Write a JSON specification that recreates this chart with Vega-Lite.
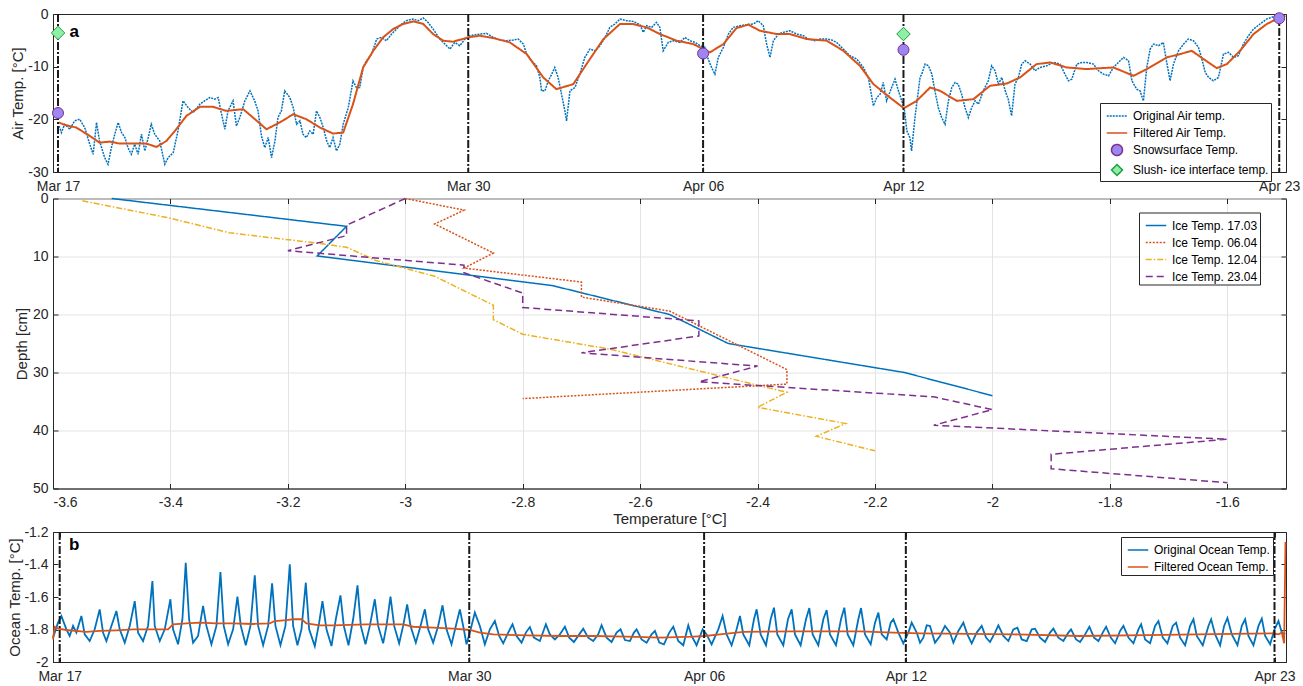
{
  "$schema": "https://vega.github.io/schema/vega-lite/v6.json",
  "padding": {"left": 7, "top": 6, "right": 5, "bottom": 2},
  "background": "white",
  "spacing": -3.5,
  "config": {
    "font": "Liberation Sans",
    "view": {"stroke": "#262626", "strokeWidth": 1},
    "locale": {"number": {"decimal": ".", "thousands": ",", "grouping": [3], "currency": ["$", ""], "minus": "-"}},
    "axis": {
      "labelFont": "Liberation Sans", "labelFontSize": 14, "labelColor": "#262626", "labelOverlap": false,
      "titleFont": "Liberation Sans", "titleFontSize": 15, "titleFontWeight": "normal", "titleColor": "#262626",
      "domainColor": "#262626", "tickColor": "#262626", "tickSize": -5, "grid": false
    },
    "axisX": {"labelPadding": 12},
    "axisY": {"labelPadding": 10},
    "legend": {
      "labelFont": "Liberation Sans", "labelFontSize": 12, "labelColor": "#000000",
      "strokeColor": "#262626", "fillColor": "#ffffff", "padding": 2, "rowPadding": -1,
      "labelOffset": 5, "symbolOffset": 4, "symbolStrokeWidth": 1.5, "cornerRadius": 0
    }
  },
  "resolve": {
    "scale": {"x": "independent", "y": "independent", "stroke": "independent", "strokeDash": "independent", "fill": "independent", "shape": "independent", "size": "independent"},
    "legend": {"stroke": "independent", "strokeDash": "independent", "fill": "independent", "shape": "independent", "size": "independent"}
  },
  "datasets": {
    "vTop": [{"t": 0.86}, {"t": 13.0}, {"t": 19.95}, {"t": 25.88}, {"t": 37.0}],
    "vBot": [{"t": 0.91}, {"t": 13.03}, {"t": 19.98}, {"t": 25.95}, {"t": 36.86}],
    "labA": [{"t": 1.34, "v": -3.5, "s": "a"}],
    "labB": [{"t": 1.34, "v": -1.279, "s": "b"}],
    "snow": [{"t": 0.86, "v": -18.8}, {"t": 19.95, "v": -7.5}, {"t": 25.88, "v": -6.8}, {"t": 37.0, "v": -0.8}],
    "slush": [{"t": 0.86, "v": -3.6}, {"t": 25.88, "v": -3.8}],
    "airO": [
      {"t":0.89,"v":-21.25},{"t":0.96,"v":-22.51},{"t":1.06,"v":-20.93},{"t":1.21,"v":-21.88},{"t":1.35,"v":-20.29},{"t":1.50,"v":-19.98},{"t":1.65,"v":-21.56},{"t":1.80,"v":-24.73},{"t":1.90,"v":-26.64},{"t":2.00,"v":-20.61},
      {"t":2.09,"v":-24.10},{"t":2.24,"v":-27.27},{"t":2.34,"v":-28.54},{"t":2.44,"v":-25.37},{"t":2.54,"v":-22.83},{"t":2.64,"v":-20.61},{"t":2.74,"v":-22.51},{"t":2.84,"v":-23.47},{"t":2.93,"v":-25.37},{"t":3.03,"v":-26.64},
      {"t":3.13,"v":-24.73},{"t":3.23,"v":-26.64},{"t":3.33,"v":-22.83},{"t":3.43,"v":-26.00},{"t":3.53,"v":-23.47},{"t":3.62,"v":-20.93},{"t":3.72,"v":-22.83},{"t":3.87,"v":-24.10},{"t":4.02,"v":-28.54},{"t":4.12,"v":-27.27},
      {"t":4.27,"v":-26.32},{"t":4.41,"v":-22.20},{"t":4.56,"v":-16.49},{"t":4.71,"v":-17.76},{"t":4.86,"v":-18.71},{"t":5.06,"v":-17.12},{"t":5.20,"v":-16.49},{"t":5.35,"v":-15.86},{"t":5.50,"v":-16.17},{"t":5.60,"v":-15.86},
      {"t":5.70,"v":-19.03},{"t":5.80,"v":-21.88},{"t":5.89,"v":-18.39},{"t":6.04,"v":-16.49},{"t":6.14,"v":-21.25},{"t":6.24,"v":-19.66},{"t":6.39,"v":-16.49},{"t":6.54,"v":-14.59},{"t":6.68,"v":-16.49},{"t":6.78,"v":-18.39},
      {"t":6.88,"v":-23.15},{"t":6.98,"v":-25.37},{"t":7.08,"v":-23.47},{"t":7.18,"v":-27.27},{"t":7.28,"v":-24.10},{"t":7.37,"v":-19.66},{"t":7.47,"v":-18.39},{"t":7.57,"v":-14.59},{"t":7.72,"v":-15.86},{"t":7.82,"v":-17.76},
      {"t":7.92,"v":-20.93},{"t":8.02,"v":-20.29},{"t":8.11,"v":-22.83},{"t":8.21,"v":-23.47},{"t":8.31,"v":-22.20},{"t":8.41,"v":-22.83},{"t":8.51,"v":-18.39},{"t":8.61,"v":-19.66},{"t":8.71,"v":-21.56},{"t":8.81,"v":-24.10},
      {"t":8.90,"v":-25.37},{"t":9.00,"v":-23.47},{"t":9.10,"v":-26.00},{"t":9.20,"v":-24.73},{"t":9.30,"v":-20.93},{"t":9.45,"v":-17.76},{"t":9.59,"v":-12.68},{"t":9.69,"v":-13.95},{"t":9.79,"v":-13.95},{"t":9.89,"v":-10.15},
      {"t":9.99,"v":-8.88},{"t":10.14,"v":-7.61},{"t":10.29,"v":-4.76},{"t":10.43,"v":-4.44},{"t":10.58,"v":-5.07},{"t":10.73,"v":-3.81},{"t":10.88,"v":-2.85},{"t":11.03,"v":-1.90},{"t":11.17,"v":-1.27},{"t":11.37,"v":-0.95},
      {"t":11.52,"v":-1.27},{"t":11.67,"v":-0.76},{"t":11.81,"v":-1.59},{"t":11.96,"v":-2.85},{"t":12.16,"v":-4.76},{"t":12.31,"v":-5.71},{"t":12.46,"v":-6.66},{"t":12.60,"v":-5.39},{"t":12.75,"v":-6.02},{"t":12.90,"v":-4.76},
      {"t":13.05,"v":-4.12},{"t":13.34,"v":-3.81},{"t":13.54,"v":-3.68},{"t":13.74,"v":-4.44},{"t":13.94,"v":-4.95},{"t":14.13,"v":-5.07},{"t":14.33,"v":-4.95},{"t":14.48,"v":-4.76},{"t":14.63,"v":-5.71},{"t":14.73,"v":-7.61},
      {"t":14.87,"v":-8.88},{"t":15.02,"v":-9.83},{"t":15.12,"v":-12.05},{"t":15.17,"v":-14.59},{"t":15.27,"v":-14.59},{"t":15.37,"v":-12.68},{"t":15.47,"v":-11.42},{"t":15.56,"v":-10.15},{"t":15.66,"v":-12.05},{"t":15.76,"v":-15.22},
      {"t":15.86,"v":-18.39},{"t":15.91,"v":-20.29},{"t":16.01,"v":-14.59},{"t":16.16,"v":-13.95},{"t":16.30,"v":-11.42},{"t":16.45,"v":-8.24},{"t":16.60,"v":-6.66},{"t":16.75,"v":-6.98},{"t":16.90,"v":-6.02},{"t":17.05,"v":-4.44},
      {"t":17.19,"v":-2.54},{"t":17.34,"v":-1.90},{"t":17.49,"v":-0.95},{"t":17.69,"v":-1.27},{"t":17.88,"v":-1.40},{"t":18.08,"v":-2.03},{"t":18.18,"v":-3.49},{"t":18.28,"v":-2.22},{"t":18.43,"v":-2.54},{"t":18.57,"v":-1.59},
      {"t":18.67,"v":-2.54},{"t":18.77,"v":-6.98},{"t":18.92,"v":-5.39},{"t":19.07,"v":-5.07},{"t":19.27,"v":-5.39},{"t":19.41,"v":-4.44},{"t":19.56,"v":-5.07},{"t":19.71,"v":-5.39},{"t":19.86,"v":-6.02},{"t":20.01,"v":-6.34},
      {"t":20.10,"v":-8.56},{"t":20.20,"v":-10.15},{"t":20.30,"v":-11.42},{"t":20.40,"v":-8.24},{"t":20.55,"v":-6.34},{"t":20.70,"v":-3.81},{"t":20.84,"v":-2.54},{"t":21.04,"v":-2.22},{"t":21.24,"v":-2.03},{"t":21.44,"v":-1.90},
      {"t":21.58,"v":-1.27},{"t":21.73,"v":-2.22},{"t":21.83,"v":-5.71},{"t":21.93,"v":-8.24},{"t":22.03,"v":-5.07},{"t":22.18,"v":-3.81},{"t":22.32,"v":-3.49},{"t":22.52,"v":-3.17},{"t":22.72,"v":-3.81},{"t":22.92,"v":-4.12},
      {"t":23.06,"v":-4.76},{"t":23.26,"v":-5.07},{"t":23.41,"v":-4.76},{"t":23.61,"v":-4.76},{"t":23.76,"v":-4.95},{"t":23.90,"v":-5.39},{"t":24.10,"v":-6.66},{"t":24.30,"v":-7.93},{"t":24.50,"v":-8.56},{"t":24.69,"v":-10.15},
      {"t":24.84,"v":-12.05},{"t":24.99,"v":-17.44},{"t":25.09,"v":-15.86},{"t":25.19,"v":-15.22},{"t":25.28,"v":-13.00},{"t":25.38,"v":-16.49},{"t":25.53,"v":-13.95},{"t":25.63,"v":-12.37},{"t":25.73,"v":-14.59},{"t":25.83,"v":-16.49},
      {"t":25.90,"v":-17.76},{"t":25.98,"v":-22.20},{"t":26.07,"v":-23.47},{"t":26.12,"v":-26.00},{"t":26.22,"v":-19.66},{"t":26.37,"v":-12.05},{"t":26.42,"v":-11.42},{"t":26.52,"v":-9.51},{"t":26.62,"v":-9.83},{"t":26.72,"v":-11.42},
      {"t":26.81,"v":-14.59},{"t":26.91,"v":-17.76},{"t":27.01,"v":-19.66},{"t":27.11,"v":-20.93},{"t":27.21,"v":-16.49},{"t":27.31,"v":-13.95},{"t":27.41,"v":-13.00},{"t":27.50,"v":-13.32},{"t":27.60,"v":-15.22},{"t":27.70,"v":-17.76},
      {"t":27.80,"v":-19.66},{"t":27.90,"v":-17.76},{"t":28.00,"v":-16.49},{"t":28.10,"v":-17.12},{"t":28.24,"v":-14.59},{"t":28.39,"v":-12.68},{"t":28.49,"v":-9.83},{"t":28.59,"v":-10.78},{"t":28.69,"v":-13.32},{"t":28.79,"v":-12.05},
      {"t":28.89,"v":-14.59},{"t":28.98,"v":-16.17},{"t":29.08,"v":-19.34},{"t":29.18,"v":-13.32},{"t":29.28,"v":-12.05},{"t":29.38,"v":-9.51},{"t":29.48,"v":-8.88},{"t":29.63,"v":-9.51},{"t":29.77,"v":-10.78},{"t":29.92,"v":-10.15},
      {"t":30.12,"v":-9.83},{"t":30.32,"v":-9.20},{"t":30.51,"v":-9.51},{"t":30.66,"v":-11.42},{"t":30.76,"v":-12.68},{"t":30.86,"v":-12.37},{"t":31.01,"v":-9.51},{"t":31.16,"v":-9.20},{"t":31.30,"v":-9.20},{"t":31.50,"v":-9.51},
      {"t":31.65,"v":-10.78},{"t":31.80,"v":-11.42},{"t":31.95,"v":-11.73},{"t":32.09,"v":-10.15},{"t":32.24,"v":-9.20},{"t":32.39,"v":-8.24},{"t":32.54,"v":-8.88},{"t":32.64,"v":-12.68},{"t":32.78,"v":-14.27},{"t":32.88,"v":-14.59},
      {"t":32.98,"v":-16.49},{"t":33.08,"v":-10.15},{"t":33.18,"v":-6.66},{"t":33.28,"v":-5.71},{"t":33.43,"v":-6.02},{"t":33.57,"v":-5.39},{"t":33.67,"v":-9.20},{"t":33.77,"v":-12.68},{"t":33.87,"v":-9.51},{"t":34.02,"v":-6.98},
      {"t":34.17,"v":-5.71},{"t":34.31,"v":-4.76},{"t":34.46,"v":-5.07},{"t":34.61,"v":-6.34},{"t":34.71,"v":-8.56},{"t":34.81,"v":-11.10},{"t":34.91,"v":-12.05},{"t":35.05,"v":-12.68},{"t":35.20,"v":-12.05},{"t":35.35,"v":-7.61},
      {"t":35.50,"v":-7.29},{"t":35.65,"v":-8.24},{"t":35.79,"v":-7.93},{"t":35.94,"v":-5.71},{"t":36.09,"v":-4.12},{"t":36.24,"v":-2.85},{"t":36.43,"v":-1.90},{"t":36.63,"v":-0.95},{"t":36.78,"v":-0.63},{"t":36.93,"v":-0.32},
      {"t":37.03,"v":-0.13}
    ],
    "airF": [
      {"t":0.89,"v":-20.61},{"t":1.06,"v":-21.06},{"t":1.40,"v":-21.56},{"t":1.80,"v":-23.15},{"t":2.09,"v":-24.42},{"t":2.39,"v":-24.23},{"t":2.69,"v":-24.61},{"t":3.08,"v":-24.61},{"t":3.48,"v":-24.61},{"t":3.77,"v":-25.24},
      {"t":4.07,"v":-24.10},{"t":4.36,"v":-21.88},{"t":4.66,"v":-19.34},{"t":5.06,"v":-17.63},{"t":5.45,"v":-17.63},{"t":5.84,"v":-18.39},{"t":6.34,"v":-18.07},{"t":6.63,"v":-19.66},{"t":7.03,"v":-21.88},{"t":7.42,"v":-20.61},
      {"t":7.82,"v":-19.03},{"t":8.21,"v":-19.98},{"t":8.61,"v":-21.56},{"t":9.00,"v":-22.70},{"t":9.30,"v":-22.51},{"t":9.59,"v":-17.12},{"t":9.89,"v":-10.15},{"t":10.19,"v":-6.98},{"t":10.48,"v":-4.44},{"t":10.78,"v":-2.85},
      {"t":11.07,"v":-1.90},{"t":11.37,"v":-1.40},{"t":11.67,"v":-1.90},{"t":11.96,"v":-3.81},{"t":12.26,"v":-5.07},{"t":12.55,"v":-5.26},{"t":13.00,"v":-4.44},{"t":13.34,"v":-4.12},{"t":13.74,"v":-4.57},{"t":14.23,"v":-5.39},
      {"t":14.73,"v":-7.61},{"t":15.22,"v":-12.05},{"t":15.61,"v":-14.27},{"t":16.11,"v":-13.32},{"t":16.50,"v":-9.51},{"t":17.00,"v":-4.76},{"t":17.49,"v":-1.90},{"t":17.88,"v":-1.90},{"t":18.28,"v":-2.54},{"t":18.67,"v":-3.81},
      {"t":19.17,"v":-5.07},{"t":19.66,"v":-5.71},{"t":19.95,"v":-6.66},{"t":20.15,"v":-7.29},{"t":20.55,"v":-5.71},{"t":20.94,"v":-2.66},{"t":21.29,"v":-2.03},{"t":21.63,"v":-3.17},{"t":22.13,"v":-3.81},{"t":22.52,"v":-3.81},
      {"t":23.02,"v":-4.76},{"t":23.61,"v":-5.07},{"t":24.10,"v":-6.98},{"t":24.59,"v":-9.83},{"t":24.99,"v":-13.32},{"t":25.48,"v":-15.86},{"t":25.89,"v":-17.88},{"t":26.27,"v":-16.49},{"t":26.67,"v":-13.95},{"t":26.96,"v":-14.59},
      {"t":27.46,"v":-16.49},{"t":27.95,"v":-16.17},{"t":28.44,"v":-13.64},{"t":28.94,"v":-13.19},{"t":29.33,"v":-12.05},{"t":29.82,"v":-9.51},{"t":30.22,"v":-9.20},{"t":30.71,"v":-10.15},{"t":31.30,"v":-10.46},{"t":32.09,"v":-10.15},
      {"t":32.69,"v":-11.73},{"t":33.08,"v":-10.46},{"t":33.67,"v":-8.24},{"t":34.07,"v":-7.61},{"t":34.41,"v":-6.98},{"t":34.76,"v":-8.56},{"t":35.15,"v":-10.27},{"t":35.45,"v":-9.51},{"t":35.84,"v":-6.98},{"t":36.24,"v":-3.81},
      {"t":36.63,"v":-1.90},{"t":36.93,"v":-0.95},{"t":37.18,"v":-0.32}
    ],
    "ice": [
      {"p":"Ice Temp. 17.03","i":1,"T":-3.50,"d":0},{"p":"Ice Temp. 17.03","i":2,"T":-3.10,"d":4.8},{"p":"Ice Temp. 17.03","i":3,"T":-3.15,"d":9.9},{"p":"Ice Temp. 17.03","i":4,"T":-2.75,"d":15},{"p":"Ice Temp. 17.03","i":5,"T":-2.55,"d":20},{"p":"Ice Temp. 17.03","i":6,"T":-2.45,"d":25},{"p":"Ice Temp. 17.03","i":7,"T":-2.15,"d":30},{"p":"Ice Temp. 17.03","i":8,"T":-2.0,"d":34},
      {"p":"Ice Temp. 06.04","i":1,"T":-3.0,"d":0},{"p":"Ice Temp. 06.04","i":2,"T":-2.9,"d":2},{"p":"Ice Temp. 06.04","i":3,"T":-2.95,"d":4.4},{"p":"Ice Temp. 06.04","i":4,"T":-2.85,"d":9.4},{"p":"Ice Temp. 06.04","i":5,"T":-2.9,"d":12},{"p":"Ice Temp. 06.04","i":6,"T":-2.7,"d":14.4},{"p":"Ice Temp. 06.04","i":7,"T":-2.7,"d":17},{"p":"Ice Temp. 06.04","i":8,"T":-2.55,"d":19.4},{"p":"Ice Temp. 06.04","i":9,"T":-2.35,"d":29.5},{"p":"Ice Temp. 06.04","i":10,"T":-2.35,"d":32},{"p":"Ice Temp. 06.04","i":11,"T":-2.8,"d":34.5},
      {"p":"Ice Temp. 12.04","i":1,"T":-3.55,"d":0.4},{"p":"Ice Temp. 12.04","i":2,"T":-3.4,"d":3.4},{"p":"Ice Temp. 12.04","i":3,"T":-3.3,"d":5.9},{"p":"Ice Temp. 12.04","i":4,"T":-3.15,"d":7.7},{"p":"Ice Temp. 12.04","i":5,"T":-3.1,"d":8.4},{"p":"Ice Temp. 12.04","i":6,"T":-3.05,"d":10.7},{"p":"Ice Temp. 12.04","i":7,"T":-2.95,"d":13.4},{"p":"Ice Temp. 12.04","i":8,"T":-2.85,"d":18.4},{"p":"Ice Temp. 12.04","i":9,"T":-2.85,"d":20.9},{"p":"Ice Temp. 12.04","i":10,"T":-2.8,"d":23.4},{"p":"Ice Temp. 12.04","i":11,"T":-2.65,"d":26},{"p":"Ice Temp. 12.04","i":12,"T":-2.4,"d":32.2},{"p":"Ice Temp. 12.04","i":13,"T":-2.35,"d":33.4},{"p":"Ice Temp. 12.04","i":14,"T":-2.4,"d":36},{"p":"Ice Temp. 12.04","i":15,"T":-2.25,"d":38.8},{"p":"Ice Temp. 12.04","i":16,"T":-2.3,"d":41},{"p":"Ice Temp. 12.04","i":17,"T":-2.2,"d":43.5},
      {"p":"Ice Temp. 23.04","i":1,"T":-3.0,"d":0},{"p":"Ice Temp. 23.04","i":2,"T":-3.1,"d":4.6},{"p":"Ice Temp. 23.04","i":3,"T":-3.1,"d":6.4},{"p":"Ice Temp. 23.04","i":4,"T":-3.2,"d":9.0},{"p":"Ice Temp. 23.04","i":5,"T":-2.9,"d":11.5},{"p":"Ice Temp. 23.04","i":6,"T":-2.9,"d":12.8},{"p":"Ice Temp. 23.04","i":7,"T":-2.8,"d":16.3},{"p":"Ice Temp. 23.04","i":8,"T":-2.8,"d":18.8},{"p":"Ice Temp. 23.04","i":9,"T":-2.5,"d":21.1},{"p":"Ice Temp. 23.04","i":10,"T":-2.5,"d":23.7},{"p":"Ice Temp. 23.04","i":11,"T":-2.7,"d":26.6},{"p":"Ice Temp. 23.04","i":12,"T":-2.4,"d":28.9},{"p":"Ice Temp. 23.04","i":13,"T":-2.5,"d":31.6},{"p":"Ice Temp. 23.04","i":14,"T":-2.1,"d":34.2},{"p":"Ice Temp. 23.04","i":15,"T":-2.0,"d":36.4},{"p":"Ice Temp. 23.04","i":16,"T":-2.1,"d":39.1},{"p":"Ice Temp. 23.04","i":17,"T":-1.6,"d":41.5},{"p":"Ice Temp. 23.04","i":18,"T":-1.9,"d":44.1},{"p":"Ice Temp. 23.04","i":19,"T":-1.9,"d":46.6},{"p":"Ice Temp. 23.04","i":20,"T":-1.6,"d":49.0}
    ],
    "ocO": [
      {"t":0.713,"v":-1.850},{"t":0.861,"v":-1.758},{"t":0.960,"v":-1.717},{"t":1.108,"v":-1.799},{"t":1.206,"v":-1.840},{"t":1.305,"v":-1.778},{"t":1.404,"v":-1.819},{"t":1.552,"v":-1.717},{"t":1.650,"v":-1.830},{"t":1.798,"v":-1.871},
      {"t":1.946,"v":-1.799},{"t":2.094,"v":-1.676},{"t":2.193,"v":-1.819},{"t":2.292,"v":-1.871},{"t":2.440,"v":-1.778},{"t":2.588,"v":-1.686},{"t":2.686,"v":-1.799},{"t":2.835,"v":-1.881},{"t":2.983,"v":-1.778},{"t":3.131,"v":-1.625},
      {"t":3.229,"v":-1.819},{"t":3.377,"v":-1.871},{"t":3.525,"v":-1.778},{"t":3.654,"v":-1.502},{"t":3.723,"v":-1.778},{"t":3.871,"v":-1.871},{"t":4.019,"v":-1.799},{"t":4.186,"v":-1.614},{"t":4.265,"v":-1.799},{"t":4.413,"v":-1.891},
      {"t":4.542,"v":-1.737},{"t":4.640,"v":-1.389},{"t":4.739,"v":-1.737},{"t":4.857,"v":-1.881},{"t":5.005,"v":-1.840},{"t":5.153,"v":-1.655},{"t":5.252,"v":-1.778},{"t":5.400,"v":-1.891},{"t":5.548,"v":-1.778},{"t":5.667,"v":-1.446},
      {"t":5.765,"v":-1.778},{"t":5.894,"v":-1.891},{"t":6.042,"v":-1.799},{"t":6.170,"v":-1.598},{"t":6.269,"v":-1.778},{"t":6.417,"v":-1.897},{"t":6.555,"v":-1.778},{"t":6.683,"v":-1.467},{"t":6.782,"v":-1.778},{"t":6.930,"v":-1.897},
      {"t":7.078,"v":-1.778},{"t":7.196,"v":-1.516},{"t":7.295,"v":-1.778},{"t":7.443,"v":-1.897},{"t":7.591,"v":-1.778},{"t":7.719,"v":-1.399},{"t":7.818,"v":-1.778},{"t":7.946,"v":-1.897},{"t":8.065,"v":-1.799},{"t":8.193,"v":-1.512},
      {"t":8.292,"v":-1.799},{"t":8.459,"v":-1.902},{"t":8.588,"v":-1.758},{"t":8.686,"v":-1.625},{"t":8.805,"v":-1.799},{"t":8.953,"v":-1.902},{"t":9.081,"v":-1.737},{"t":9.219,"v":-1.590},{"t":9.318,"v":-1.778},{"t":9.456,"v":-1.897},
      {"t":9.594,"v":-1.737},{"t":9.723,"v":-1.528},{"t":9.821,"v":-1.778},{"t":9.959,"v":-1.891},{"t":10.088,"v":-1.778},{"t":10.235,"v":-1.614},{"t":10.334,"v":-1.778},{"t":10.482,"v":-1.885},{"t":10.581,"v":-1.778},{"t":10.699,"v":-1.598},
      {"t":10.808,"v":-1.778},{"t":10.956,"v":-1.885},{"t":11.074,"v":-1.778},{"t":11.193,"v":-1.645},{"t":11.292,"v":-1.778},{"t":11.449,"v":-1.881},{"t":11.588,"v":-1.778},{"t":11.716,"v":-1.676},{"t":11.814,"v":-1.799},{"t":11.962,"v":-1.881},
      {"t":12.110,"v":-1.778},{"t":12.239,"v":-1.651},{"t":12.357,"v":-1.799},{"t":12.505,"v":-1.891},{"t":12.633,"v":-1.778},{"t":12.752,"v":-1.676},{"t":12.870,"v":-1.799},{"t":12.949,"v":-1.891},{"t":13.048,"v":-1.819},{"t":13.196,"v":-1.696},
      {"t":13.344,"v":-1.778},{"t":13.492,"v":-1.891},{"t":13.640,"v":-1.799},{"t":13.788,"v":-1.748},{"t":13.916,"v":-1.840},{"t":14.035,"v":-1.885},{"t":14.183,"v":-1.819},{"t":14.311,"v":-1.768},{"t":14.430,"v":-1.840},{"t":14.578,"v":-1.881},
      {"t":14.706,"v":-1.819},{"t":14.824,"v":-1.785},{"t":14.943,"v":-1.850},{"t":15.120,"v":-1.871},{"t":15.298,"v":-1.768},{"t":15.416,"v":-1.830},{"t":15.564,"v":-1.861},{"t":15.712,"v":-1.830},{"t":15.860,"v":-1.783},{"t":15.989,"v":-1.850},
      {"t":16.127,"v":-1.877},{"t":16.285,"v":-1.830},{"t":16.403,"v":-1.795},{"t":16.551,"v":-1.850},{"t":16.699,"v":-1.871},{"t":16.847,"v":-1.830},{"t":16.946,"v":-1.774},{"t":17.094,"v":-1.850},{"t":17.242,"v":-1.877},{"t":17.390,"v":-1.819},
      {"t":17.508,"v":-1.799},{"t":17.637,"v":-1.865},{"t":17.785,"v":-1.871},{"t":17.903,"v":-1.819},{"t":17.982,"v":-1.799},{"t":18.130,"v":-1.861},{"t":18.278,"v":-1.881},{"t":18.426,"v":-1.830},{"t":18.525,"v":-1.809},{"t":18.653,"v":-1.881},
      {"t":18.791,"v":-1.891},{"t":18.949,"v":-1.819},{"t":19.068,"v":-1.783},{"t":19.215,"v":-1.871},{"t":19.364,"v":-1.897},{"t":19.512,"v":-1.774},{"t":19.610,"v":-1.840},{"t":19.758,"v":-1.897},{"t":19.936,"v":-1.799},{"t":20.054,"v":-1.830},
      {"t":20.202,"v":-1.891},{"t":20.400,"v":-1.799},{"t":20.528,"v":-1.717},{"t":20.646,"v":-1.830},{"t":20.794,"v":-1.897},{"t":20.942,"v":-1.799},{"t":21.041,"v":-1.717},{"t":21.140,"v":-1.830},{"t":21.317,"v":-1.897},{"t":21.456,"v":-1.737},
      {"t":21.535,"v":-1.676},{"t":21.653,"v":-1.830},{"t":21.811,"v":-1.897},{"t":21.949,"v":-1.737},{"t":22.048,"v":-1.666},{"t":22.146,"v":-1.830},{"t":22.324,"v":-1.897},{"t":22.462,"v":-1.737},{"t":22.571,"v":-1.676},{"t":22.669,"v":-1.830},
      {"t":22.837,"v":-1.897},{"t":22.995,"v":-1.737},{"t":23.093,"v":-1.668},{"t":23.192,"v":-1.830},{"t":23.360,"v":-1.897},{"t":23.508,"v":-1.737},{"t":23.607,"v":-1.680},{"t":23.705,"v":-1.830},{"t":23.883,"v":-1.897},{"t":24.031,"v":-1.737},
      {"t":24.130,"v":-1.666},{"t":24.228,"v":-1.830},{"t":24.396,"v":-1.897},{"t":24.544,"v":-1.737},{"t":24.623,"v":-1.668},{"t":24.742,"v":-1.830},{"t":24.910,"v":-1.891},{"t":25.038,"v":-1.758},{"t":25.137,"v":-1.696},{"t":25.236,"v":-1.830},
      {"t":25.383,"v":-1.861},{"t":25.502,"v":-1.758},{"t":25.581,"v":-1.737},{"t":25.728,"v":-1.819},{"t":25.876,"v":-1.885},{"t":26.025,"v":-1.819},{"t":26.123,"v":-1.758},{"t":26.271,"v":-1.819},{"t":26.370,"v":-1.881},{"t":26.468,"v":-1.850},
      {"t":26.567,"v":-1.774},{"t":26.665,"v":-1.778},{"t":26.813,"v":-1.881},{"t":26.961,"v":-1.840},{"t":27.109,"v":-1.778},{"t":27.257,"v":-1.819},{"t":27.356,"v":-1.881},{"t":27.504,"v":-1.809},{"t":27.652,"v":-1.758},{"t":27.770,"v":-1.830},
      {"t":27.899,"v":-1.885},{"t":28.047,"v":-1.819},{"t":28.195,"v":-1.778},{"t":28.323,"v":-1.850},{"t":28.441,"v":-1.877},{"t":28.589,"v":-1.819},{"t":28.688,"v":-1.774},{"t":28.836,"v":-1.840},{"t":28.984,"v":-1.871},{"t":29.132,"v":-1.799},
      {"t":29.251,"v":-1.789},{"t":29.379,"v":-1.861},{"t":29.527,"v":-1.871},{"t":29.675,"v":-1.799},{"t":29.774,"v":-1.795},{"t":29.922,"v":-1.850},{"t":30.070,"v":-1.877},{"t":30.218,"v":-1.819},{"t":30.316,"v":-1.795},{"t":30.464,"v":-1.850},
      {"t":30.612,"v":-1.871},{"t":30.760,"v":-1.819},{"t":30.839,"v":-1.799},{"t":30.987,"v":-1.861},{"t":31.106,"v":-1.877},{"t":31.254,"v":-1.830},{"t":31.382,"v":-1.783},{"t":31.520,"v":-1.850},{"t":31.649,"v":-1.871},{"t":31.777,"v":-1.819},
      {"t":31.876,"v":-1.783},{"t":32.014,"v":-1.850},{"t":32.142,"v":-1.885},{"t":32.290,"v":-1.809},{"t":32.389,"v":-1.778},{"t":32.537,"v":-1.850},{"t":32.685,"v":-1.885},{"t":32.833,"v":-1.799},{"t":32.912,"v":-1.768},{"t":33.030,"v":-1.861},
      {"t":33.178,"v":-1.885},{"t":33.326,"v":-1.778},{"t":33.425,"v":-1.748},{"t":33.553,"v":-1.850},{"t":33.691,"v":-1.885},{"t":33.849,"v":-1.778},{"t":33.948,"v":-1.758},{"t":34.066,"v":-1.850},{"t":34.214,"v":-1.897},{"t":34.362,"v":-1.778},
      {"t":34.461,"v":-1.737},{"t":34.560,"v":-1.840},{"t":34.737,"v":-1.897},{"t":34.905,"v":-1.778},{"t":34.984,"v":-1.737},{"t":35.102,"v":-1.830},{"t":35.250,"v":-1.897},{"t":35.369,"v":-1.778},{"t":35.467,"v":-1.729},{"t":35.596,"v":-1.830},
      {"t":35.764,"v":-1.897},{"t":35.892,"v":-1.778},{"t":35.991,"v":-1.737},{"t":36.089,"v":-1.840},{"t":36.237,"v":-1.897},{"t":36.385,"v":-1.778},{"t":36.484,"v":-1.733},{"t":36.583,"v":-1.840},{"t":36.730,"v":-1.891},{"t":36.859,"v":-1.799},
      {"t":36.977,"v":-1.748},{"t":37.076,"v":-1.819},{"t":37.175,"v":-1.830}
    ],
    "ocF": [
      {"t":0.713,"v":-1.861},{"t":0.762,"v":-1.783},{"t":0.861,"v":-1.795},{"t":1.108,"v":-1.803},{"t":1.700,"v":-1.815},{"t":2.094,"v":-1.809},{"t":2.588,"v":-1.805},{"t":3.081,"v":-1.799},{"t":3.575,"v":-1.799},{"t":4.117,"v":-1.799},
      {"t":4.265,"v":-1.768},{"t":4.660,"v":-1.762},{"t":5.055,"v":-1.758},{"t":5.548,"v":-1.762},{"t":6.042,"v":-1.762},{"t":6.634,"v":-1.766},{"t":7.127,"v":-1.762},{"t":7.275,"v":-1.748},{"t":7.620,"v":-1.742},{"t":7.818,"v":-1.737},
      {"t":8.065,"v":-1.737},{"t":8.213,"v":-1.762},{"t":8.607,"v":-1.774},{"t":9.002,"v":-1.774},{"t":9.989,"v":-1.768},{"t":11.074,"v":-1.768},{"t":11.370,"v":-1.783},{"t":11.962,"v":-1.789},{"t":12.554,"v":-1.795},{"t":13.048,"v":-1.803},
      {"t":13.344,"v":-1.819},{"t":13.739,"v":-1.830},{"t":14.726,"v":-1.836},{"t":15.712,"v":-1.840},{"t":16.699,"v":-1.840},{"t":17.686,"v":-1.844},{"t":18.673,"v":-1.850},{"t":19.660,"v":-1.844},{"t":20.005,"v":-1.840},{"t":20.449,"v":-1.830},
      {"t":21.140,"v":-1.815},{"t":22.620,"v":-1.811},{"t":24.594,"v":-1.811},{"t":25.580,"v":-1.819},{"t":26.370,"v":-1.824},{"t":27.159,"v":-1.826},{"t":29.132,"v":-1.830},{"t":31.106,"v":-1.840},{"t":33.079,"v":-1.834},{"t":35.053,"v":-1.828},
      {"t":36.829,"v":-1.824},{"t":36.977,"v":-1.830},{"t":37.076,"v":-1.819},{"t":37.145,"v":-1.885},{"t":37.185,"v":-1.262}
    ]
  },
  "vconcat": [
    {
      "width": 1233,
      "height": 158,
      "resolve": {"axis": {"x": "independent", "y": "independent"}},
      "layer": [
        {
          "data": {"name": "airO"},
          "mark": {"type": "line", "strokeWidth": 1.5},
          "encoding": {
            "x": {"field": "t", "type": "quantitative",
                  "scale": {"domain": [0.712, 37.2], "nice": false, "zero": false},
                  "axis": {"values": [0.86, 13.0, 19.95, 25.88, 37.0], "title": null,
                           "labelExpr": "datum.value < 5 ? 'Mar 17' : datum.value < 16 ? 'Mar 30' : datum.value < 22 ? 'Apr 06' : datum.value < 30 ? 'Apr 12' : 'Apr 23'"}},
            "y": {"field": "v", "type": "quantitative",
                  "scale": {"domain": [-30, 0], "nice": false, "zero": false},
                  "axis": {"values": [-30, -20, -10, 0], "title": "Air Temp. [°C]", "titlePadding": 2, "format": "d"}},
            "stroke": {"datum": "Original Air temp.", "type": "nominal",
                       "scale": {"domain": ["Original Air temp.", "Filtered Air Temp.", "Snowsurface Temp.", "Slush- ice interface temp."],
                                 "range": ["#0072BD", "#D95319", "#7E2F8E", "#1E9E45"]},
                       "legend": {"title": null, "orient": "none", "legendX": 1047, "legendY": 89, "symbolSize": 170,
                                  "encode": {"symbols": {"update": {"size": {"signal": "datum.value == 'Snowsurface Temp.' || datum.value == 'Slush- ice interface temp.' ? 121 : 420"}}}}}},
            "strokeDash": {"datum": "Original Air temp.", "type": "nominal",
                           "scale": {"domain": ["Original Air temp.", "Filtered Air Temp.", "Snowsurface Temp.", "Slush- ice interface temp."],
                                     "range": [[2, 1], [1, 0], [1, 0], [1, 0]]},
                           "legend": {"title": null}}
          }
        },
        {
          "data": {"name": "airF"},
          "mark": {"type": "line", "strokeWidth": 2},
          "encoding": {
            "x": {"field": "t", "type": "quantitative", "axis": null},
            "y": {"field": "v", "type": "quantitative", "axis": null},
            "stroke": {"datum": "Filtered Air Temp.", "type": "nominal"},
            "strokeDash": {"datum": "Filtered Air Temp.", "type": "nominal"}
          }
        },
        {
          "data": {"name": "vTop"},
          "mark": {"type": "rule", "color": "#1a1a1a", "strokeWidth": 2, "strokeDash": [8, 2, 2, 2]},
          "encoding": {"x": {"field": "t", "type": "quantitative", "axis": null}}
        },
        {
          "data": {"name": "snow"},
          "mark": {"type": "point", "opacity": 1, "strokeWidth": 1},
          "encoding": {
            "x": {"field": "t", "type": "quantitative", "axis": null},
            "y": {"field": "v", "type": "quantitative", "axis": null},
            "stroke": {"datum": "Snowsurface Temp.", "type": "nominal"},
            "fill": {"datum": "Snowsurface Temp.", "type": "nominal",
                     "scale": {"domain": ["Original Air temp.", "Filtered Air Temp.", "Snowsurface Temp.", "Slush- ice interface temp."],
                               "range": ["transparent", "transparent", "#9B86F2", "#8EEFA6"]},
                     "legend": {"title": null}},
            "shape": {"datum": "Snowsurface Temp.", "type": "nominal",
                      "scale": {"domain": ["Original Air temp.", "Filtered Air Temp.", "Snowsurface Temp.", "Slush- ice interface temp."],
                                "range": ["stroke", "stroke", "circle", "diamond"]},
                      "legend": {"title": null}},
            "size": {"datum": "Snowsurface Temp.", "type": "nominal",
                     "scale": {"type": "ordinal", "domain": ["Original Air temp.", "Filtered Air Temp.", "Snowsurface Temp.", "Slush- ice interface temp."],
                               "range": [400, 400, 121, 100]},
                     "legend": null}
          }
        },
        {
          "data": {"name": "slush"},
          "mark": {"type": "point", "opacity": 1, "strokeWidth": 1},
          "encoding": {
            "x": {"field": "t", "type": "quantitative", "axis": null},
            "y": {"field": "v", "type": "quantitative", "axis": null},
            "stroke": {"datum": "Slush- ice interface temp.", "type": "nominal"},
            "fill": {"datum": "Slush- ice interface temp.", "type": "nominal"},
            "shape": {"datum": "Slush- ice interface temp.", "type": "nominal"},
            "size": {"datum": "Slush- ice interface temp.", "type": "nominal", "legend": null}
          }
        },
        {
          "data": {"name": "labA"},
          "mark": {"type": "text", "fontSize": 17, "fontWeight": "bold", "font": "Liberation Sans", "color": "#000000", "align": "center", "baseline": "middle"},
          "encoding": {
            "x": {"field": "t", "type": "quantitative", "axis": null},
            "y": {"field": "v", "type": "quantitative", "axis": null},
            "text": {"field": "s"}
          }
        },
        {
          "data": {"name": "labA"},
          "mark": {"type": "point", "opacity": 0},
          "encoding": {
            "x": {"field": "t", "type": "quantitative", "axis": {"orient": "top", "values": [0.86, 13.0, 19.95, 25.88, 37.0], "labels": false, "domain": false, "title": null}},
            "y": {"field": "v", "type": "quantitative", "axis": {"orient": "right", "values": [-30, -20, -10, 0], "labels": false, "domain": false, "title": null}}
          }
        }
      ]
    },
    {
      "width": 1233,
      "height": 290,
      "data": {"name": "ice"},
      "resolve": {"axis": {"x": "independent", "y": "independent"}},
      "layer": [
        {
          "mark": {"type": "line", "strokeWidth": 1.5},
          "encoding": {
            "x": {"field": "T", "type": "quantitative",
                  "scale": {"domain": [-3.6, -1.5], "nice": false, "zero": false},
                  "axis": {"values": [-3.6, -3.4, -3.2, -3.0, -2.8, -2.6, -2.4, -2.2, -2.0, -1.8, -1.6], "format": ".1~f", "title": "Temperature [°C]", "titlePadding": 2, "grid": true, "gridColor": "#e3e3e3"}},
            "y": {"field": "d", "type": "quantitative",
                  "scale": {"domain": [0, 50], "reverse": true, "nice": false},
                  "axis": {"values": [0, 10, 20, 30, 40, 50], "title": "Depth [cm]", "titlePadding": 3, "grid": true, "gridColor": "#e3e3e3"}},
            "stroke": {"field": "p", "type": "nominal",
                       "scale": {"domain": ["Ice Temp. 17.03", "Ice Temp. 06.04", "Ice Temp. 12.04", "Ice Temp. 23.04"],
                                 "range": ["#0072BD", "#D95319", "#EDB120", "#7E2F8E"]},
                       "legend": {"title": null, "orient": "none", "legendX": 1086, "legendY": 14, "symbolSize": 170,
                                  "encode": {"symbols": {"update": {"size": {"value": 420}}}}}},
            "strokeDash": {"field": "p", "type": "nominal",
                           "scale": {"domain": ["Ice Temp. 17.03", "Ice Temp. 06.04", "Ice Temp. 12.04", "Ice Temp. 23.04"],
                                     "range": [[1, 0], [2, 1.5], [6, 2, 1.5, 2], [7, 4]]},
                           "legend": {"title": null}},
            "order": {"field": "i", "type": "quantitative"}
          }
        },
        {
          "mark": {"type": "point", "opacity": 0},
          "encoding": {
            "x": {"field": "T", "type": "quantitative", "axis": {"orient": "top", "values": [-3.6, -3.4, -3.2, -3.0, -2.8, -2.6, -2.4, -2.2, -2.0, -1.8, -1.6], "labels": false, "domain": false, "title": null}},
            "y": {"field": "d", "type": "quantitative", "axis": {"orient": "right", "values": [0, 10, 20, 30, 40, 50], "labels": false, "domain": false, "title": null}}
          }
        }
      ]
    },
    {
      "width": 1233,
      "height": 130,
      "resolve": {"axis": {"x": "independent", "y": "independent"}},
      "layer": [
        {
          "data": {"name": "ocO"},
          "mark": {"type": "line", "strokeWidth": 1.8},
          "encoding": {
            "x": {"field": "t", "type": "quantitative",
                  "scale": {"domain": [0.712, 37.2], "nice": false, "zero": false},
                  "axis": {"values": [0.91, 13.03, 19.98, 25.95, 36.86], "title": null,
                           "labelExpr": "datum.value < 5 ? 'Mar 17' : datum.value < 16 ? 'Mar 30' : datum.value < 22 ? 'Apr 06' : datum.value < 30 ? 'Apr 12' : 'Apr 23'"}},
            "y": {"field": "v", "type": "quantitative",
                  "scale": {"domain": [-2, -1.2], "nice": false, "zero": false},
                  "axis": {"values": [-2, -1.8, -1.6, -1.4, -1.2], "format": ".1~f", "title": "Ocean Temp. [°C]", "titlePadding": 1}},
            "stroke": {"datum": "Original Ocean Temp.", "type": "nominal",
                       "scale": {"domain": ["Original Ocean Temp.", "Filtered Ocean Temp."], "range": ["#0072BD", "#D95319"]},
                       "legend": {"title": null, "orient": "none", "legendX": 1068, "legendY": 5, "symbolSize": 170,
                                  "encode": {"symbols": {"update": {"size": {"value": 420}}}}}}
          }
        },
        {
          "data": {"name": "ocF"},
          "mark": {"type": "line", "strokeWidth": 1.8},
          "encoding": {
            "x": {"field": "t", "type": "quantitative", "axis": null},
            "y": {"field": "v", "type": "quantitative", "axis": null},
            "stroke": {"datum": "Filtered Ocean Temp.", "type": "nominal"}
          }
        },
        {
          "data": {"name": "vBot"},
          "mark": {"type": "rule", "color": "#1a1a1a", "strokeWidth": 2, "strokeDash": [8, 2, 2, 2]},
          "encoding": {"x": {"field": "t", "type": "quantitative", "axis": null}}
        },
        {
          "data": {"name": "labB"},
          "mark": {"type": "text", "fontSize": 17, "fontWeight": "bold", "font": "Liberation Sans", "color": "#000000", "align": "center", "baseline": "middle"},
          "encoding": {
            "x": {"field": "t", "type": "quantitative", "axis": null},
            "y": {"field": "v", "type": "quantitative", "axis": null},
            "text": {"field": "s"}
          }
        },
        {
          "data": {"name": "labB"},
          "mark": {"type": "point", "opacity": 0},
          "encoding": {
            "x": {"field": "t", "type": "quantitative", "axis": {"orient": "top", "values": [0.91, 13.03, 19.98, 25.95, 36.86], "labels": false, "domain": false, "title": null}},
            "y": {"field": "v", "type": "quantitative", "axis": {"orient": "right", "values": [-2, -1.8, -1.6, -1.4, -1.2], "labels": false, "domain": false, "title": null}}
          }
        }
      ]
    }
  ]
}
